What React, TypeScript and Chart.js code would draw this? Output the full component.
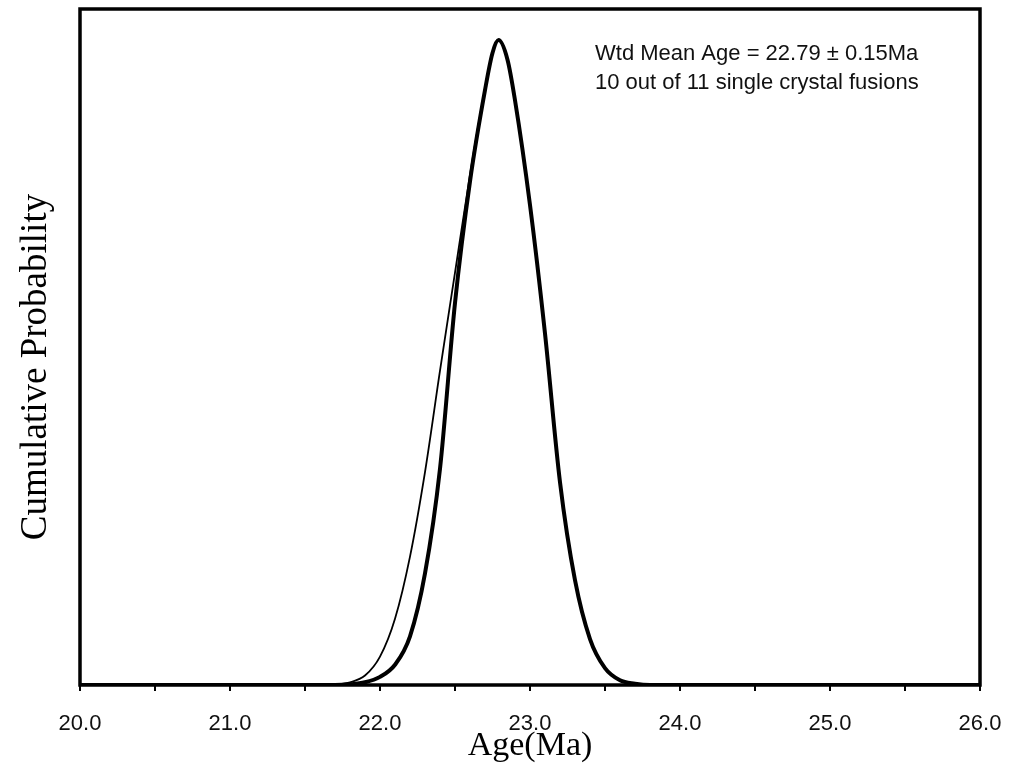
import React, { useEffect, useRef } from 'react';
import { Chart, registerables } from 'chart.js';

Chart.register(...registerables);

// Ages (Ma) and relative probability of the weighted-mean curve (thick line)
const thickAges = [20.0, 21.7, 21.8, 21.9, 22.0, 22.1, 22.2, 22.3, 22.4, 22.5, 22.6, 22.7, 22.75, 22.79, 22.85, 22.9, 23.0, 23.1, 23.2, 23.3, 23.4, 23.5, 23.6, 23.7, 23.8, 26.0];
const thickProb = [0, 0, 0.001, 0.004, 0.012, 0.03, 0.072, 0.165, 0.32, 0.565, 0.745, 0.88, 0.935, 0.954, 0.925, 0.865, 0.71, 0.52, 0.3, 0.155, 0.068, 0.025, 0.007, 0.002, 0, 0];

// Ages (Ma) and relative probability of the all-crystal curve (thin line)
const thinAges = [20.0, 21.6, 21.7, 21.8, 21.9, 22.0, 22.1, 22.2, 22.3, 22.4, 22.5, 22.6, 22.7, 22.75, 22.79, 22.85, 22.9, 23.0, 23.1, 23.2, 23.3, 23.4, 23.5, 23.6, 23.7, 23.8, 26.0];
const thinProb = [0, 0, 0.001, 0.004, 0.014, 0.042, 0.098, 0.19, 0.315, 0.465, 0.61, 0.755, 0.882, 0.936, 0.954, 0.925, 0.865, 0.71, 0.52, 0.3, 0.155, 0.068, 0.025, 0.007, 0.002, 0, 0];

// Axis ticks
const xTickValues = [20.0, 20.5, 21.0, 21.5, 22.0, 22.5, 23.0, 23.5, 24.0, 24.5, 25.0, 25.5, 26.0];
const xMin = 20.0;
const xMax = 26.0;

const xTitle = 'Age(Ma)';
const yTitle = 'Cumulative Probability';
const annotationLines = ['Wtd Mean Age = 22.79 ± 0.15Ma', '10 out of 11 single crystal fusions'];

export default function App() {
  const ref = useRef<HTMLCanvasElement>(null);

  useEffect(() => {
    if (!ref.current) return;

    const framePlugin = {
      id: 'frame',
      afterDatasetsDraw(chart: any) {
        const { ctx, chartArea } = chart;
        const { left, top, right, bottom } = chartArea;
        ctx.save();
        ctx.strokeStyle = '#000';
        ctx.lineWidth = 3.5;
        ctx.strokeRect(left, top, right - left, bottom - top);
        ctx.restore();
      },
    };

    const textPlugin = {
      id: 'texts',
      afterDraw(chart: any) {
        const { ctx, chartArea } = chart;
        ctx.save();
        ctx.fillStyle = '#000';
        // y-axis title
        ctx.translate(36, (chartArea.top + chartArea.bottom) / 2 + 20);
        ctx.rotate(-Math.PI / 2);
        ctx.font = '37px "Liberation Serif", "Times New Roman", serif';
        ctx.textAlign = 'center';
        ctx.textBaseline = 'middle';
        ctx.fillText(yTitle, 0, 0);
        ctx.restore();

        ctx.save();
        ctx.fillStyle = '#111';
        ctx.font = '22px "Liberation Sans", Arial, sans-serif';
        ctx.textAlign = 'left';
        ctx.textBaseline = 'alphabetic';
        annotationLines.forEach((line, i) => {
          ctx.fillText(line, chartArea.left + 515, chartArea.top + 51 + i * 29);
        });
        ctx.restore();
      },
    };

    const chart = new Chart(ref.current, {
      type: 'line',
      data: {
        datasets: [
          {
            label: 'Weighted mean',
            data: thickAges.map((x, i) => ({ x, y: thickProb[i] })),
            borderColor: '#000',
            borderWidth: 4,
            pointRadius: 0,
            cubicInterpolationMode: 'monotone',
            fill: false,
            order: 0,
          },
          {
            label: 'All crystals',
            data: thinAges.map((x, i) => ({ x, y: thinProb[i] })),
            borderColor: '#000',
            borderWidth: 1.8,
            pointRadius: 0,
            cubicInterpolationMode: 'monotone',
            fill: false,
            order: 1,
          },
        ],
      },
      options: {
        responsive: false,
        animation: false,
        devicePixelRatio: 1,
        layout: { padding: { left: 0, right: 31, top: 9, bottom: 0 } },
        plugins: { legend: { display: false }, tooltip: { enabled: false } },
        scales: {
          x: {
            type: 'linear',
            min: xMin,
            max: xMax,
            afterBuildTicks: (s: any) => {
              s.ticks = xTickValues.map((v) => ({ value: v }));
            },
            ticks: {
              autoSkip: false,
              maxRotation: 0,
              padding: 20,
              color: '#111',
              font: { family: '"Liberation Sans", Arial, sans-serif', size: 22 },
              callback: (v: any) => (Math.abs(v - Math.round(v)) < 1e-9 ? Number(v).toFixed(1) : ''),
            },
            grid: {
              display: true,
              drawOnChartArea: false,
              drawTicks: true,
              tickLength: 6,
              color: '#000',
              lineWidth: 2,
            },
            border: { display: false },
            title: {
              display: true,
              text: xTitle,
              color: '#000',
              font: { family: '"Liberation Serif", "Times New Roman", serif', size: 34 },
              padding: { top: 0, bottom: 7 },
            },
            afterFit: (s: any) => {
              s.height = 88;
              s.paddingLeft = 0;
              s.paddingRight = 0;
            },
          },
          y: {
            type: 'linear',
            min: 0,
            max: 1,
            ticks: { display: false },
            grid: { display: false },
            border: { display: false },
            afterFit: (s: any) => {
              s.width = 80;
            },
          },
        },
      },
      plugins: [framePlugin, textPlugin],
    } as any);

    return () => chart.destroy();
  }, []);

  return (
    <div style={{ position: 'absolute', left: 0, top: 0, width: 1011, height: 773, background: '#fff' }}>
      <canvas ref={ref} width={1011} height={773} />
    </div>
  );
}
